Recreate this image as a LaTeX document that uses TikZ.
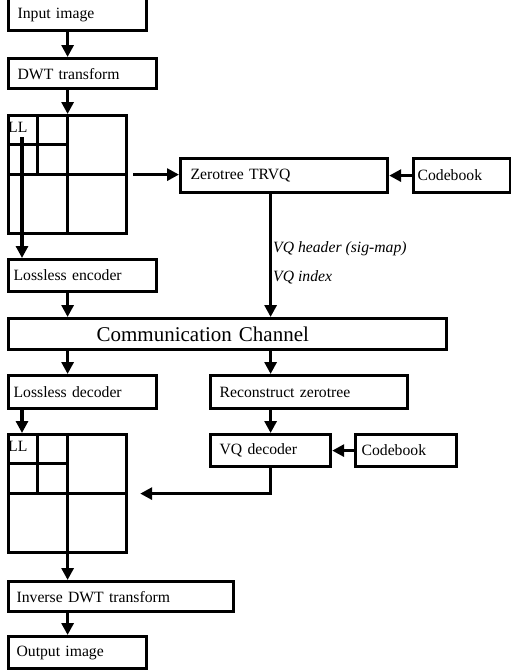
\documentclass[tikz,border=0pt]{standalone}
\usepackage{fontspec}
\setmainfont{Liberation Serif}
\usetikzlibrary{arrows.meta,calc}

\begin{document}
\begin{tikzpicture}[x=1pt,y=-1pt,
	blk/.style={draw, line width=3.2pt, anchor=north west, align=left, inner ysep=0pt, font=\fontsize{15.7}{18}\selectfont},
	band/.style={draw, line width=3.2pt, anchor=north west, minimum size=118pt, inner sep=0pt},
	arr/.style={line width=3.2pt, -{Triangle[length=12pt,width=12pt]}},
	sub/.style={anchor=base west, inner sep=0pt, font=\fontsize{15.7}{18}\selectfont},
	note/.style={anchor=base west, inner sep=0pt, font=\fontsize{15.7}{18}\selectfont\itshape}]
	\useasboundingbox (0,0) rectangle (511,672);

	% encoder side
	\node[blk, minimum height=32pt, text width=120pt, inner xsep=9pt] (inp) at (7,-3) {Input image};
	\node[blk, minimum height=30pt, text width=130pt, inner xsep=9pt] (dwt) at (7,57) {DWT transform};
	\node[band] (grid1) at (7,114) {};
	\node[sub] (ll1) at (8,132) {LL};
	\node[blk, minimum height=32pt, text width=138pt, inner xsep=5pt] (enc) at (7,258) {Lossless encoder};
	\node[blk, minimum height=34pt, text width=187pt, inner xsep=10pt] (ztq) at (179,157) {Zerotree TRVQ};
	\node[blk, minimum height=34pt, text width=89pt, inner xsep=4pt] (cb1) at (412,157) {Codebook};
	\node[note] (hdr) at (273,252) {VQ header (sig-map)};
	\node[note] (idx) at (273,281) {VQ index};

	% channel
	\node[blk, minimum height=31pt, text width=262pt, inner xsep=88pt, font=\fontsize{21}{25}\selectfont] (chan) at (7,317) {Communication Channel};

	% decoder side
	\node[blk, minimum height=33pt, text width=138pt, inner xsep=5pt] (dec) at (7,374) {Lossless decoder};
	\node[blk, minimum height=33pt, text width=179pt, inner xsep=9pt] (rec) at (209,374) {Reconstruct zerotree};
	\node[blk, minimum height=32pt, text width=102pt, inner xsep=9pt] (vqd) at (209,433) {VQ decoder};
	\node[blk, minimum height=32pt, text width=89pt, inner xsep=6pt] (cb2) at (354,433) {Codebook};
	\node[band] (grid2) at (7,433) {};
	\node[sub] (ll2) at (8,451) {LL};
	\node[blk, minimum height=30pt, text width=209pt, inner xsep=8pt] (idwt) at (7,580) {Inverse DWT transform};
	\node[blk, minimum height=32pt, text width=122pt, inner xsep=8pt] (out) at (7,635) {Output image};

	% subband split lines
	\foreach \g in {grid1,grid2} {
		\draw[line width=3.2pt] (\g.north) -- (\g.south);
		\draw[line width=3.2pt] (\g.west) -- (\g.east);
		\draw[line width=3.2pt] ($(\g.north west)!0.5!(\g.north)$) -- ($(\g.west)!0.5!(\g.center)$);
		\draw[line width=3.2pt] ($(\g.north west)!0.5!(\g.west)$) -- ($(\g.north)!0.5!(\g.center)$);
	}

	% connectors
	\coordinate (ll1out) at (22,137);
	\draw[arr] (inp.south -| grid1.north) -- (dwt.north -| grid1.north);
	\draw[arr] (dwt.south -| grid1.north) -- (grid1.north);
	\draw[arr] (ll1out) -- (ll1out |- enc.north);
	\draw[arr] ([xshift=5pt]grid1.east) -- (grid1.east -| ztq.west);
	\draw[arr] (cb1.west) -- (ztq.east);
	\draw[arr] (enc.south -| grid1.north) -- (chan.north -| grid1.north);
	\draw[arr] (ztq.south -| vqd.north) -- (chan.north -| vqd.north);
	\draw[arr] (chan.south -| grid1.north) -- (dec.north -| grid1.north);
	\draw[arr] (chan.south -| vqd.north) -- (rec.north -| vqd.north);
	\draw[arr] ([xshift=15pt]dec.south west) -- ([xshift=15pt]dec.south west |- grid2.north);
	\draw[arr] (rec.south -| vqd.north) -- (vqd.north);
	\draw[arr] (cb2.west) -- (vqd.east);
	\draw[arr] (vqd.south) |- ([xshift=12pt]grid2.east);
	\draw[arr] (grid2.south) -- (grid2.south |- idwt.north);
	\draw[arr] (idwt.south -| grid2.south) -- (out.north -| grid2.south);
\end{tikzpicture}
\end{document}
